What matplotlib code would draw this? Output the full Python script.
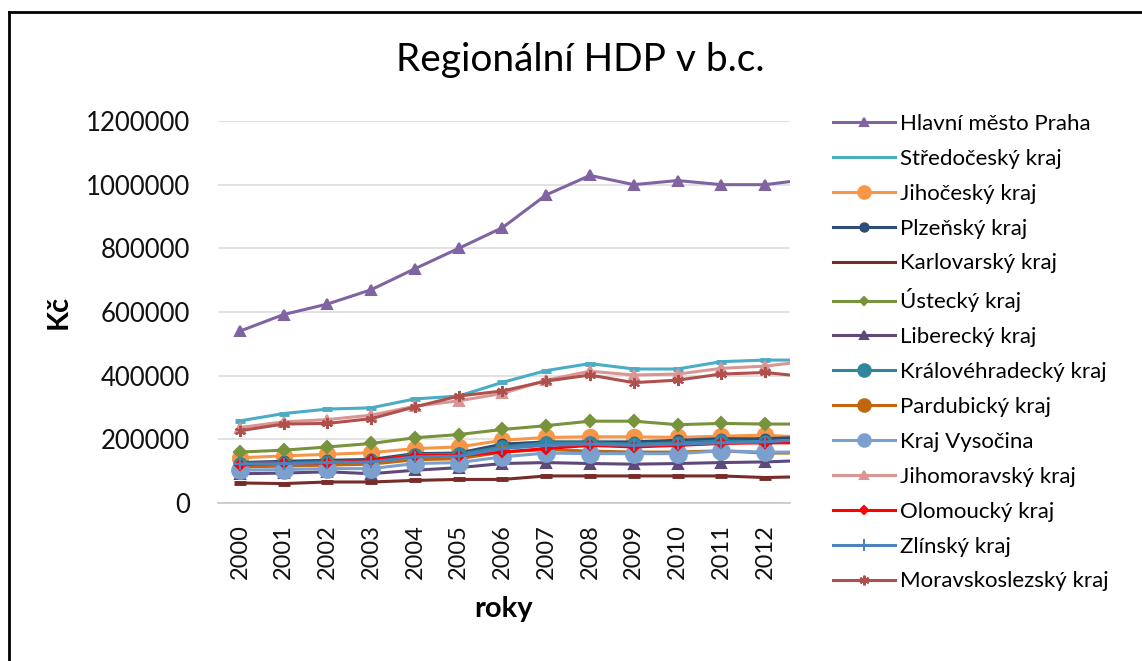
import matplotlib.pyplot as plt
from matplotlib.lines import Line2D

roky = [2000, 2001, 2002, 2003, 2004, 2005, 2006, 2007, 2008, 2009, 2010, 2011, 2012, 2013]

praha = [540000, 592000, 625000, 670000, 736000, 800000, 865000, 968000, 1029000, 1000000, 1013000, 1000000, 1000000, 1017000]
stredocesky = [258000, 281000, 295000, 299000, 327000, 336000, 379000, 416000, 438000, 421000, 421000, 444000, 449000, 449000]
jihocesky = [142000, 148000, 153000, 158000, 171000, 176000, 197000, 206000, 208000, 208000, 206000, 210000, 213000, 206000]
plzensky = [127000, 131000, 134000, 137000, 155000, 157000, 185000, 192000, 192000, 192000, 197000, 202000, 202000, 207000]
karlovarsky = [63000, 61000, 66000, 66000, 71000, 74000, 74000, 85000, 85000, 85000, 85000, 85000, 80000, 83000]
ustecky = [160000, 166000, 176000, 187000, 205000, 215000, 231000, 243000, 257000, 257000, 246000, 250000, 248000, 248000]
liberecky = [92000, 94000, 98000, 92000, 103000, 111000, 124000, 127000, 124000, 122000, 124000, 127000, 129000, 134000]
kralovehradecky = [124000, 127000, 129000, 132000, 152000, 153000, 176000, 189000, 189000, 185000, 189000, 195000, 192000, 192000]
pardubicky = [113000, 116000, 119000, 122000, 136000, 139000, 160000, 168000, 163000, 160000, 160000, 164000, 157000, 157000]
vysocina = [103000, 105000, 108000, 108000, 124000, 127000, 145000, 157000, 155000, 155000, 155000, 164000, 160000, 160000]
jihomoravsky = [237000, 255000, 262000, 276000, 304000, 321000, 344000, 386000, 414000, 402000, 405000, 423000, 430000, 446000]
olomoucky = [119000, 126000, 126000, 134000, 149000, 149000, 160000, 171000, 181000, 176000, 181000, 187000, 189000, 189000]
zlinsky = [122000, 124000, 127000, 129000, 145000, 147000, 171000, 181000, 185000, 181000, 185000, 189000, 192000, 200000]
moravskoslezsky = [227000, 248000, 250000, 265000, 302000, 336000, 352000, 383000, 402000, 378000, 386000, 405000, 410000, 396000]

nazvy = ["Hlavní město Praha", "Středočeský kraj", "Jihočeský kraj", "Plzeňský kraj",
         "Karlovarský kraj", "Ústecký kraj", "Liberecký kraj", "Královéhradecký kraj",
         "Pardubický kraj", "Kraj Vysočina", "Jihomoravský kraj", "Olomoucký kraj",
         "Zlínský kraj", "Moravskoslezský kraj"]
hodnoty = [praha, stredocesky, jihocesky, plzensky, karlovarsky, ustecky, liberecky,
           kralovehradecky, pardubicky, vysocina, jihomoravsky, olomoucky, zlinsky,
           moravskoslezsky]

# barva, znacka, velikost znacky v grafu, velikost v legende
styly = [
    ("#8064A2", "^", 7, 6),
    ("#4BACC6", "_", 7, 5),
    ("#F79646", "o", 11, 9),
    ("#2C4D75", "o", 7, 6),
    ("#772C2A", "_", 9, 0),
    ("#77933C", "D", 6, 4),
    ("#5F497A", "^", 7, 6),
    ("#31859C", "o", 9, 9),
    ("#C0660E", "o", 9, 9),
    ("#7BA0CD", "o", 12, 9),
    ("#D99694", "^", 7, 6),
    ("#FF0000", "D", 5, 4),
    ("#4F81BD", "+", 8, 8),
    ("#B0504D", (6, 2, 0), 8, 7),
]

plt.rcParams["font.family"] = ["Lato", "DejaVu Sans"]

fig = plt.figure(figsize=(11.42, 6.61), dpi=100, facecolor="white")
ax = fig.add_axes([218 / 1142, 1 - 503 / 661, (790 - 218) / 1142, (503 - 121) / 661])

handles = []
for nazev, y, (barva, znacka, ms, ms_leg) in zip(nazvy, hodnoty, styly):
    mew = 3.5 if znacka == "_" else 1.5
    ax.plot(roky, y, color=barva, lw=2.2, marker=znacka, ms=ms, mew=mew,
            mec=barva, mfc=barva, clip_on=True)
    handles.append(Line2D([], [], color=barva, lw=2.2, marker=znacka, ms=ms_leg,
                          mew=1.5, mec=barva, mfc=barva))

ax.set_xlim(1999.5, 2012.57)
ax.set_ylim(0, 1200000)
ax.set_xticks(roky[:-1])
ax.set_xticklabels([str(r) for r in roky[:-1]], rotation=90, fontsize=17, color="#111111")
ax.set_yticks(range(0, 1200001, 200000))
ax.set_yticklabels([str(v) for v in range(0, 1200001, 200000)], fontsize=18.5, color="#111111")
ax.tick_params(length=0)
ax.tick_params(axis="y", pad=20)
ax.tick_params(axis="x", pad=15)
ax.grid(axis="y", color="#DDDDDD", lw=1.2)
ax.set_axisbelow(True)
for s in ["top", "right", "left"]:
    ax.spines[s].set_visible(False)
ax.spines["bottom"].set_color("#C8C8C8")
ax.spines["bottom"].set_linewidth(1.2)

ax.set_xlabel("roky", fontsize=21, fontweight="bold", labelpad=12)
ax.set_ylabel("Kč", fontsize=21, fontweight="bold", labelpad=10)

fig.text(580 / 1142, 1 - 60 / 661, "Regionální HDP v b.c.", fontsize=28,
         ha="center", va="center")

fig.legend(handles, nazvy, loc="upper left", bbox_to_anchor=(824 / 1142, 1 - 105 / 661),
           frameon=False, fontsize=16, handlelength=2.8, handletextpad=0.2,
           labelspacing=0.67, borderaxespad=0)

# ramecek grafu
fig.add_artist(Line2D([9 / 1142, 9 / 1142], [0, 1 - 12 / 661], color="black", lw=2))
fig.add_artist(Line2D([9 / 1142, 1], [1 - 12 / 661, 1 - 12 / 661], color="black", lw=2))

fig.savefig("out.png", dpi=100, facecolor="white")
